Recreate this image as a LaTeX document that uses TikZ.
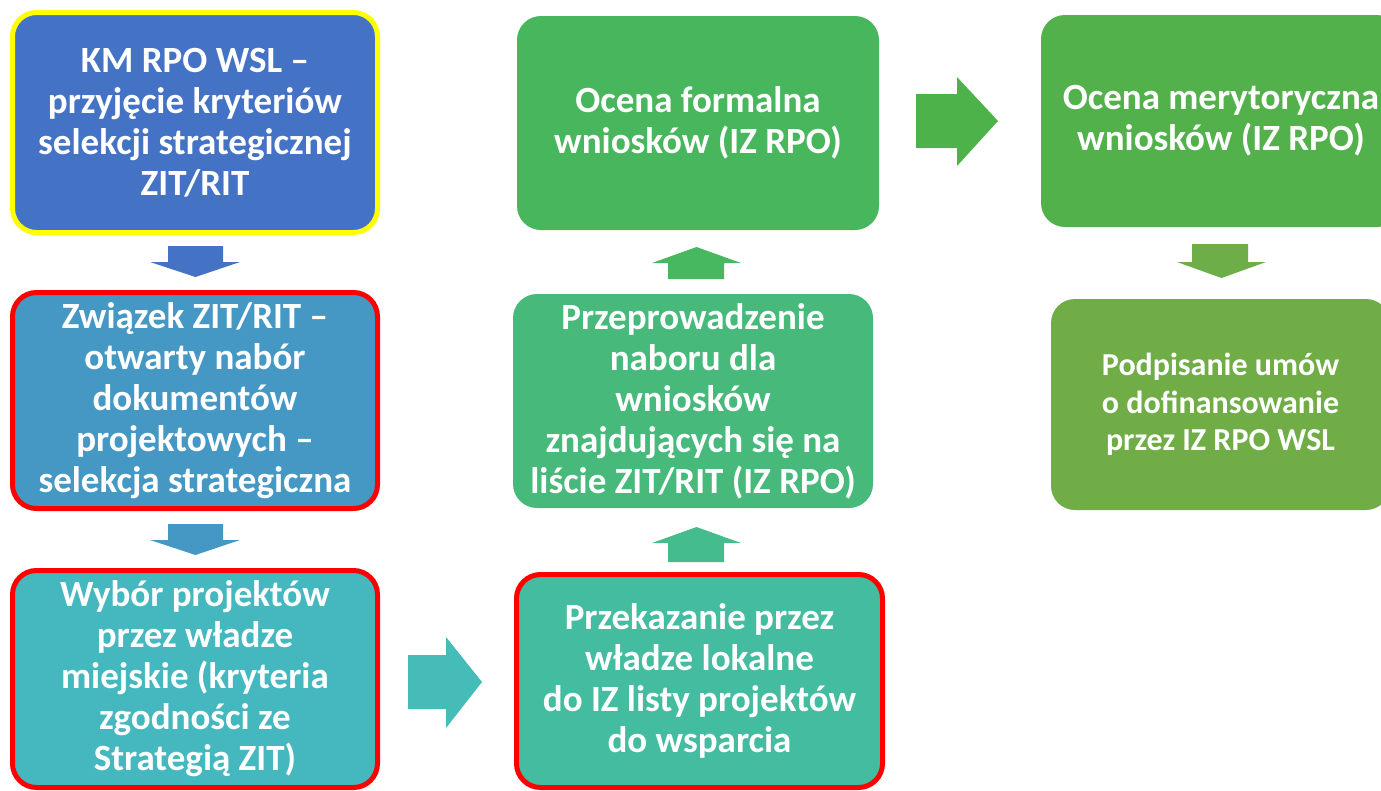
\documentclass[tikz,border=0pt]{standalone}
\usepackage{fontspec}
\setmainfont{Carlito}
\definecolor{cA}{HTML}{4472C4}
\definecolor{cB}{HTML}{4598C4}
\definecolor{cC}{HTML}{45B8BF}
\definecolor{cD}{HTML}{44BC9F}
\definecolor{cE}{HTML}{47B97B}
\definecolor{cF}{HTML}{47B65C}
\definecolor{cG}{HTML}{52B14A}
\definecolor{cH}{HTML}{70AD47}
\definecolor{aD}{HTML}{45BC8E}
\definecolor{aF}{HTML}{47B760}
\definecolor{aC}{HTML}{46BCB8}
\definecolor{aG}{HTML}{4EB24B}
\definecolor{aH}{HTML}{6DAE48}
\definecolor{yel}{HTML}{FFFF00}
\definecolor{redb}{HTML}{FF0000}
\tikzset{
  card/.style={rounded corners=24pt, text=white, align=center, inner sep=0pt,
    font=\bfseries\fontsize{37}{41}\selectfont},
  smallcard/.style={card, font=\bfseries\fontsize{32}{37.5}\selectfont},
  redline/.style={draw=redb, line width=5pt},
  yelline/.style={draw=yel, line width=5pt},
}
\begin{document}
\begin{tikzpicture}[x=1pt,y=-1pt]
\useasboundingbox (0,0) rectangle (1381,790);
\clip (0,0) rectangle (1381,790);
\fill[white] (0,0) rectangle (1381,790);

% boxes
\node[card, fill=cA, yelline, minimum width=365pt, minimum height=220pt] (km) at (195,122.5)
  {KM RPO WSL –\\przyjęcie kryteriów\\selekcji strategicznej\\ZIT/RIT};
\node[card, fill=cB, redline, minimum width=365pt, minimum height=216pt] (zw) at (195,400.5)
  {Związek ZIT/RIT –\\otwarty nabór\\dokumentów\\projektowych –\\selekcja strategiczna};
\node[card, fill=cC, redline, minimum width=365pt, minimum height=217pt] (wy) at (195,679)
  {Wybór projektów\\przez władze\\miejskie (kryteria\\zgodności ze\\Strategią ZIT)};
\node[card, fill=cD, redline, minimum width=366pt, minimum height=213pt] (pk) at (699.5,681)
  {Przekazanie przez\\władze lokalne\\do IZ listy projektów\\do wsparcia};
\node[card, fill=cE, minimum width=360pt, minimum height=214pt] (pn) at (693,401)
  {Przeprowadzenie\\naboru dla\\wniosków\\znajdujących się na\\liście ZIT/RIT (IZ RPO)};
\node[card, fill=cF, minimum width=362pt, minimum height=214pt] (of) at (698,123)
  {Ocena formalna\\wniosków (IZ RPO)};
\node[card, fill=cG, minimum width=360pt, minimum height=212pt] (om) at (1221,121)
  {Ocena merytoryczna\\wniosków (IZ RPO)};
\node[smallcard, fill=cH, minimum width=339pt, minimum height=211pt] (pu) at (1220.5,404.5)
  {Podpisanie umów\\o dofinansowanie\\przez IZ RPO WSL};

% block arrows
\fill[cA] (168,246) -- (223,246) -- (223,262) -- (240,262) -- (195.5,277) -- (150,262) -- (168,262) -- cycle;
\fill[cB] (168,524) -- (223,524) -- (223,540) -- (240,540) -- (195.5,555) -- (150,540) -- (168,540) -- cycle;
\fill[aC] (408,655) -- (446,655) -- (446,637) -- (482,682) -- (446,728) -- (446,709) -- (408,709) -- cycle;
\fill[aD] (668,562) -- (668,543) -- (652,543) -- (696.5,527) -- (741,543) -- (724,543) -- (724,562) -- cycle;
\fill[aF] (668,279) -- (668,263) -- (652,263) -- (696.5,247) -- (741,263) -- (724,263) -- (724,279) -- cycle;
\fill[aG] (916,94) -- (957,94) -- (957,77) -- (998,121) -- (957,166) -- (957,148) -- (916,148) -- cycle;
\fill[aH] (1192,244) -- (1248,244) -- (1248,262) -- (1266,262) -- (1221.5,278) -- (1177,262) -- (1192,262) -- cycle;
\end{tikzpicture}
\end{document}
